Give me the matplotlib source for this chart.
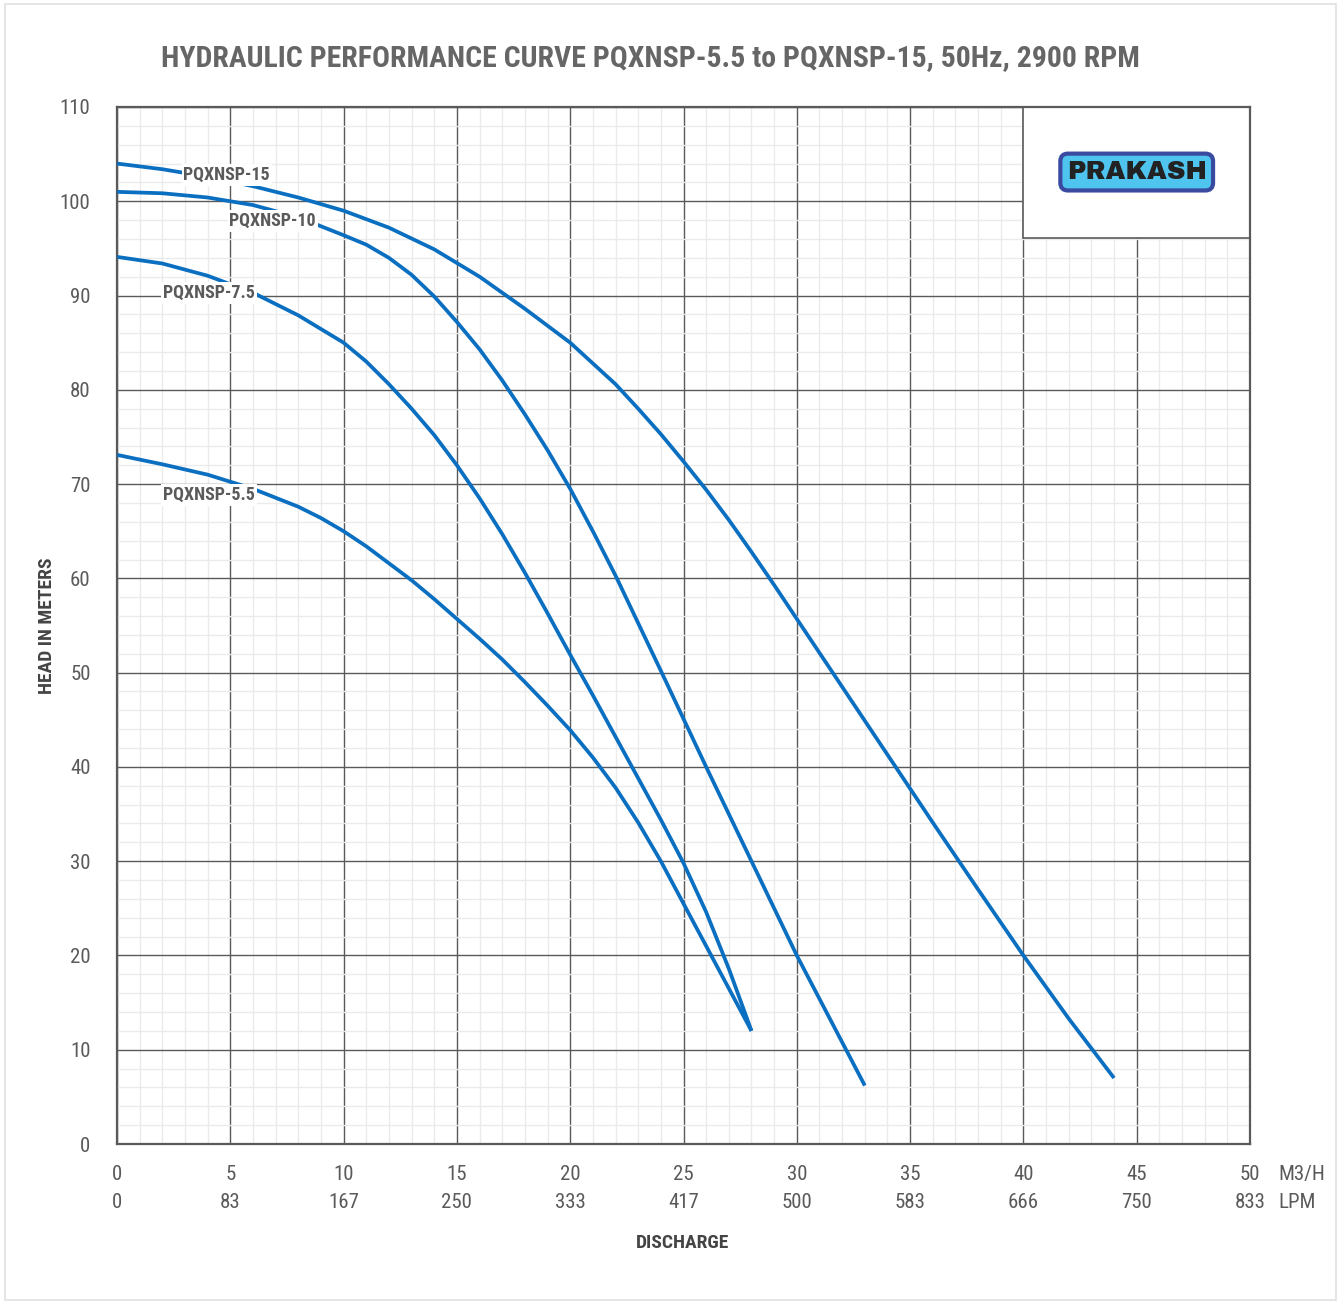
import matplotlib.pyplot as plt
from matplotlib.patches import Rectangle
import numpy as np

# discharge (m3/h) and head (m)
q_15 = [0, 2, 4, 6, 8, 10, 12, 14, 16, 18, 20, 22, 23, 24, 25, 26, 27, 28, 29, 30,
        32, 34, 36, 38, 40, 42, 44]
h_15 = [104, 103.4, 102.6, 101.6, 100.4, 99.0, 97.2, 94.9, 92.0, 88.6, 85.0, 80.6, 78.0, 75.3,
        72.4, 69.4, 66.2, 62.8, 59.3, 55.7, 48.5, 41.3, 34.1, 27.0, 20.0, 13.3, 7.0]

q_10 = [0, 2, 4, 6, 8, 10, 11, 12, 13, 14, 15, 16, 17, 18, 19, 20, 21, 22, 24, 26, 28, 30, 32, 33]
h_10 = [101.0, 100.85, 100.4, 99.6, 98.3, 96.4, 95.4, 94.0, 92.2, 89.9, 87.2, 84.3, 81.0, 77.4,
        73.6, 69.5, 65.0, 60.3, 50.2, 40.0, 30.0, 20.0, 10.8, 6.2]

q_75 = [0, 2, 4, 6, 8, 10, 11, 12, 13, 14, 15, 16, 17, 18, 19, 20, 21, 22, 23, 24, 25, 26, 27, 28]
h_75 = [94.1, 93.4, 92.1, 90.3, 87.9, 85.0, 83.0, 80.6, 78.0, 75.2, 72.0, 68.5, 64.7, 60.6,
        56.3, 51.9, 47.6, 43.2, 38.8, 34.4, 29.8, 24.6, 18.6, 12.0]

q_55 = [0, 2, 4, 6, 8, 9, 10, 11, 12, 13, 14, 15, 16, 17, 18, 19, 20, 21, 22, 23, 24, 25, 26, 27, 28]
h_55 = [73.1, 72.1, 71.0, 69.5, 67.6, 66.4, 65.0, 63.4, 61.6, 59.8, 57.8, 55.7, 53.6, 51.4,
        49.0, 46.5, 43.9, 41.0, 37.8, 34.1, 30.0, 25.5, 21.0, 16.5, 12.0]

models = ['PQXNSP-15', 'PQXNSP-10', 'PQXNSP-7.5', 'PQXNSP-5.5']
label_at = [(2.93, 102.8), (4.96, 97.9), (2.04, 90.3), (2.04, 68.85)]

x_m3h = [0, 5, 10, 15, 20, 25, 30, 35, 40, 45, 50]
x_lpm = [0, 83, 167, 250, 333, 417, 500, 583, 666, 750, 833]
y_ticks = list(range(0, 111, 10))

plt.rcParams['font.family'] = ['Roboto Condensed', 'DejaVu Sans']
GREY = '#5a5a5a'
BLUE = '#0a6fc0'

fig = plt.figure(figsize=(13.41, 13.04), dpi=100)
ax = fig.add_axes([117/1341, 1 - 1144/1304, (1250-117)/1341, (1144-107)/1304])

fig.patches.append(Rectangle((5/1341, 4/1304), 1331/1341, 1296/1304, transform=fig.transFigure,
                             fill=False, ec='#e0e0e0', lw=1.2))

ax.set_xlim(0, 50)
ax.set_ylim(0, 110)
ax.set_xticks(x_m3h)
ax.set_xticklabels([f'{a}\n{b}' for a, b in zip(x_m3h, x_lpm)], linespacing=1.58)
ax.set_yticks(y_ticks)
ax.set_xticks(np.arange(0, 51, 1), minor=True)
ax.set_yticks(np.arange(0, 111, 2), minor=True)
ax.tick_params(which='both', length=0)
ax.tick_params(axis='x', pad=15, labelsize=15, labelcolor=GREY)
ax.tick_params(axis='y', pad=19, labelsize=15, labelcolor=GREY)
ax.grid(which='minor', color='#ebebeb', lw=1.0)
ax.grid(which='major', color=GREY, lw=1.0)
ax.set_axisbelow(True)
for s in ax.spines.values():
    s.set_color(GREY)
    s.set_linewidth(1.6)

ax.text(1.0247, -0.0295, 'M3/H', transform=ax.transAxes, ha='left', va='center',
        fontsize=15, color=GREY)
ax.text(1.0247, -0.0565, 'LPM', transform=ax.transAxes, ha='left', va='center',
        fontsize=15, color=GREY)

for q, h in [(q_15, h_15), (q_10, h_10), (q_75, h_75), (q_55, h_55)]:
    ax.plot(q, h, color=BLUE, lw=2.7, solid_capstyle='butt', solid_joinstyle='round', zorder=3)

for name, (x, y) in zip(models, label_at):
    ax.text(x, y, name, ha='left', va='center', fontsize=13, fontweight='bold', color=GREY,
            zorder=4, bbox=dict(boxstyle='square,pad=0.1', fc='white', ec='none'))

# logo panel
ax.add_patch(Rectangle((40, 96.1), 10, 13.9, fc='white', ec=GREY, lw=1.2, zorder=2.5))
ax.text(45, 103.1, 'PRAKASH', ha='center', va='center', fontsize=18.5,
        color='#222222', family=['Archivo Black', 'DejaVu Sans'], zorder=4,
        bbox=dict(boxstyle='round,pad=0.25,rounding_size=0.3', fc='#4ec4ee', ec='#3a4aa0', lw=3))

fig.text(650/1341, 1 - 58/1304, 'HYDRAULIC PERFORMANCE CURVE PQXNSP-5.5 to PQXNSP-15, 50Hz, 2900 RPM',
         ha='center', va='center', fontsize=21.4, fontweight='bold', color='#666666')
fig.text(47/1341, 1 - 626/1304, 'HEAD IN METERS', rotation=90, ha='center', va='center',
         fontsize=14, fontweight='bold', color='#444444')
fig.text(683/1341, 1 - 1243/1304, 'DISCHARGE', ha='center', va='center',
         fontsize=14, fontweight='bold', color='#444444')

fig.savefig('out.png', dpi=100)
